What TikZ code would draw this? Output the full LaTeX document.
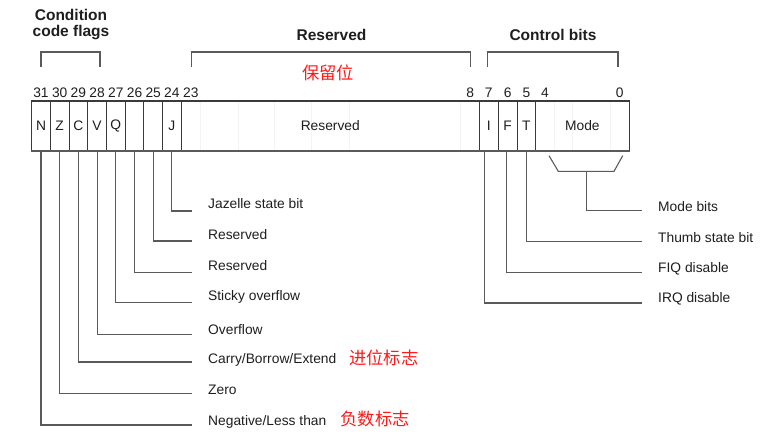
\documentclass[tikz,border=0pt]{standalone}
\usepackage{fontspec}
\setmainfont{Liberation Sans}
\newfontfamily\cjk{Noto Sans CJK SC}
\definecolor{txt}{HTML}{1E1E1E}
\definecolor{boxc}{HTML}{3A3A3A}
\definecolor{linec}{HTML}{5A5A5A}
\definecolor{faint}{HTML}{F3F3F3}
\definecolor{cnred}{HTML}{FF1A1A}
\begin{document}
\begin{tikzpicture}[x=1pt,y=-1pt,
  lbl/.style={font=\fontsize{13.8}{16}\selectfont, text=txt, anchor=base west, inner sep=0},
  num/.style={font=\fontsize{13.8}{16}\selectfont, text=txt, anchor=base, inner sep=0},
  ttl/.style={font=\bfseries\fontsize{15.5}{15.7}\selectfont, text=txt, align=center, anchor=base, inner sep=0},
  cn/.style={font=\cjk\fontsize{17.3}{18}\selectfont, text=cnred, inner sep=0},
  cell/.style={draw=boxc, line width=1, minimum height=49, inner sep=0,
    font=\fontsize{13.8}{16}\selectfont, text=txt},
  lead/.style={draw=linec, line width=1.1},
  brk/.style={draw=linec, line width=1.3}]
\useasboundingbox (0,0) rectangle (783,441);

% faint bit lines
\foreach \xx in {200,238,274,311.7,349,460,554,572,610.7}
  \draw[faint, line width=0.8] (\xx,102) -- (\xx,150);

% cells
\node[cell, minimum width=18.7] (c31) at (41,126) {N};
\node[cell, minimum width=18.7] (c30) at (59.7,126) {Z};
\node[cell, minimum width=18.7] (c29) at (78.4,126) {C};
\node[cell, minimum width=18.7] (c28) at (97.1,126) {V};
\node[cell, minimum width=18.7] (c27) at (115.8,126) {Q};
\node[cell, minimum width=18.7] (c26) at (134.5,126) {};
\node[cell, minimum width=18.7] (c25) at (153.2,126) {};
\node[cell, minimum width=18.7] (c24) at (171.9,126) {J};
\node[cell, draw=none, minimum width=298] (cRes) at (330.3,126) {Reserved};
\node[cell, minimum width=19] (cI) at (488.8,126) {I};
\node[cell, minimum width=18.7] (cF) at (507.65,126) {F};
\node[cell, minimum width=18.7] (cT) at (526.35,126) {T};
\node[cell, draw=none, minimum width=93.3] (cMode) at (582.35,126) {Mode};
\draw[boxc, line width=1.3] (c31.north west) rectangle (cMode.south east);
\draw[linec, line width=2.2] (c31.south west) -- (cMode.south east);

% bit numbers
\node[num] (n31) at (41,97.7) {31};
\node[num] (n30) at (59.7,97.7) {30};
\node[num] (n29) at (78.4,97.7) {29};
\node[num] (n28) at (97.1,97.7) {28};
\node[num] (n27) at (115.8,97.7) {27};
\node[num] (n26) at (134.5,97.7) {26};
\node[num] (n25) at (153.2,97.7) {25};
\node[num] (n24) at (171.9,97.7) {24};
\node[num] (n23) at (190.8,97.7) {23};
\node[num] (n8) at (470.3,97.7) {8};
\node[num] (n7) at (488.8,97.7) {7};
\node[num] (n6) at (507.65,97.7) {6};
\node[num] (n5) at (526.35,97.7) {5};
\node[num] (n4) at (545,97.7) {4};
\node[num] (n0) at (619.8,97.7) {0};

% titles and brackets
\node[ttl] (tCond) at (71,36.7) {Condition\\code flags};
\node[ttl] (tRes) at (331.5,40.7) {Reserved};
\node[ttl] (tCtl) at (553,40.7) {Control bits};
\node[cn] (cnRes) at (328,72.5) {保留位};
\draw[brk] (41,67) -- (41,52) -- (100,52) -- (100,67);
\draw[brk] (191.7,67) -- (191.7,52) -- (470.7,52) -- (470.7,67);
\draw[brk] (487.3,67) -- (487.3,52) -- (618,52) -- (618,67);

% left leaders
\coordinate (e24) at (192,211);
\coordinate (e25) at (192,241);
\coordinate (e26) at (192,272.7);
\coordinate (e27) at (192,302.7);
\coordinate (e28) at (192,334.3);
\coordinate (e29) at (192,362);
\coordinate (e30) at (192,393.3);
\coordinate (e31) at (192,425);
\foreach \b in {24,...,31}
  \draw[lead] (c\b.south) |- (e\b);

\node[lbl] (l24) at (208,208.3) {Jazelle state bit};
\node[lbl] (l25) at (208,239.3) {Reserved};
\node[lbl] (l26) at (208,270.5) {Reserved};
\node[lbl] (l27) at (208,300) {Sticky overflow};
\node[lbl] (l28) at (208,334.8) {Overflow};
\node[lbl] (l29) at (208,363.3) {Carry/Borrow/Extend};
\node[lbl] (l30) at (208,394.3) {Zero};
\node[lbl] (l31) at (208,425) {Negative/Less than};
\node[cn] (cnC) at (383.7,358.3) {进位标志};
\node[cn] (cnN) at (375,418.7) {负数标志};

% right leaders
\coordinate (eI) at (641.7,303);
\coordinate (eF) at (641.7,272.3);
\coordinate (eT) at (641.7,241.7);
\coordinate (eM) at (641.7,210.7);
\draw[lead] ([xshift=-4.5]cI.south) |- (eI);
\draw[lead] ([xshift=-1]cF.south) |- (eF);
\draw[lead] (cT.south) |- (eT);
\coordinate (m1) at (549,155.7);
\coordinate (m2) at (558.3,171.3);
\coordinate (m3) at (614,171.3);
\coordinate (m4) at (622.7,155.7);
\coordinate (mc) at (586.7,171.3);
\draw[lead] (m1) -- (m2) -- (m3) -- (m4);
\draw[lead] (mc) |- (eM);

\node[lbl] (lM) at (658,211) {Mode bits};
\node[lbl] (lT) at (658,242) {Thumb state bit};
\node[lbl] (lF) at (658,272.3) {FIQ disable};
\node[lbl] (lI) at (658,302.5) {IRQ disable};
\end{tikzpicture}
\end{document}
